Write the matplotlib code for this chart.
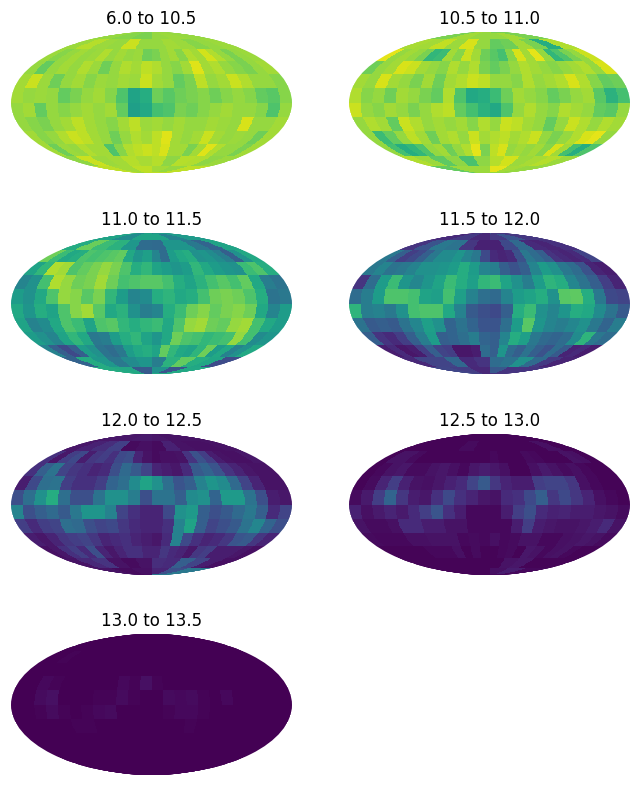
import numpy as np
import matplotlib
matplotlib.use('Agg')
import matplotlib.pyplot as plt

titles = ['6.0 to 10.5', '10.5 to 11.0', '11.0 to 11.5', '11.5 to 12.0',
          '12.0 to 12.5', '12.5 to 13.0', '13.0 to 13.5']

# fraction of pixels (percent), rows north to south, columns lon -180 to 180
bin_a = [
    [84, 84, 84, 84, 82, 82, 82, 82, 80, 80, 80, 80, 84, 84, 84, 84, 85, 85, 85, 85, 84, 84, 84, 84],
    [85, 85, 89, 89, 85, 85, 84, 84, 92, 92, 84, 84, 84, 84, 86, 86, 85, 85, 82, 82, 84, 84, 85, 85],
    [85, 82, 84, 86, 84, 85, 88, 84, 86, 84, 85, 78, 80, 84, 86, 82, 88, 86, 93, 88, 84, 80, 84, 85],
    [84, 76, 84, 86, 84, 88, 85, 78, 84, 88, 86, 90, 88, 84, 82, 86, 95, 86, 88, 84, 82, 80, 84, 86],
    [86, 92, 85, 78, 84, 86, 82, 85, 84, 86, 85, 92, 86, 84, 76, 80, 90, 84, 86, 92, 88, 84, 84, 82],
    [86, 84, 85, 84, 76, 80, 84, 86, 82, 72, 58, 62, 78, 74, 78, 80, 82, 78, 82, 84, 82, 76, 74, 82],
    [84, 86, 76, 84, 82, 84, 86, 84, 86, 76, 56, 60, 70, 72, 80, 78, 82, 84, 86, 84, 84, 82, 72, 84],
    [84, 82, 80, 84, 86, 90, 86, 84, 82, 86, 90, 85, 86, 84, 86, 84, 84, 86, 85, 84, 94, 84, 84, 86],
    [86, 82, 84, 88, 92, 90, 86, 84, 78, 84, 88, 86, 90, 95, 86, 84, 86, 92, 86, 84, 85, 84, 78, 86],
    [86, 78, 85, 84, 88, 86, 86, 72, 82, 88, 90, 92, 90, 94, 86, 86, 80, 86, 95, 88, 84, 84, 80, 86],
    [83, 83, 92, 92, 85, 85, 86, 86, 89, 89, 87, 87, 89, 89, 83, 83, 89, 89, 88, 88, 83, 83, 85, 85],
    [90, 90, 90, 90, 86, 86, 86, 86, 90, 90, 90, 90, 86, 86, 86, 86, 84, 84, 84, 84, 90, 90, 90, 90],
]
bin_b = [
    [80, 80, 80, 80, 86, 86, 86, 86, 84, 84, 84, 84, 84, 84, 84, 84, 86, 86, 86, 86, 80, 80, 80, 80],
    [87, 87, 86, 86, 91, 91, 85, 85, 94, 94, 84, 84, 76, 76, 78, 78, 86, 86, 80, 80, 62, 62, 88, 88],
    [96, 84, 86, 84, 80, 66, 68, 86, 82, 92, 86, 78, 74, 70, 82, 94, 86, 96, 84, 66, 72, 80, 84, 92],
    [78, 84, 86, 94, 92, 86, 84, 82, 88, 84, 88, 80, 76, 80, 84, 88, 86, 84, 82, 84, 86, 88, 84, 94],
    [86, 84, 94, 86, 84, 80, 86, 78, 86, 88, 92, 90, 84, 84, 82, 88, 84, 86, 88, 94, 88, 82, 76, 78],
    [88, 82, 84, 78, 86, 84, 80, 76, 88, 72, 60, 62, 68, 78, 86, 84, 82, 76, 80, 84, 86, 74, 64, 70],
    [92, 84, 82, 86, 84, 80, 84, 88, 90, 76, 70, 64, 60, 72, 84, 88, 84, 82, 88, 86, 84, 76, 74, 84],
    [84, 88, 86, 76, 92, 88, 84, 86, 84, 86, 82, 88, 84, 92, 90, 86, 84, 76, 84, 92, 88, 84, 88, 86],
    [84, 68, 76, 84, 90, 86, 78, 86, 88, 84, 92, 86, 88, 90, 86, 88, 92, 84, 80, 84, 88, 94, 96, 84],
    [84, 70, 62, 66, 72, 84, 86, 78, 84, 88, 96, 80, 90, 94, 84, 86, 84, 86, 82, 94, 86, 70, 62, 72],
    [88, 88, 85, 85, 75, 75, 83, 83, 71, 71, 83, 83, 89, 89, 93, 93, 85, 85, 87, 87, 89, 89, 85, 85],
    [76, 76, 76, 76, 85, 85, 85, 85, 85, 85, 85, 85, 96, 96, 96, 96, 86, 86, 86, 86, 84, 84, 84, 84],
]
bin_c = [
    [58, 58, 58, 58, 48, 48, 48, 48, 58, 58, 58, 58, 58, 58, 58, 58, 44, 44, 44, 44, 54, 54, 54, 54],
    [61, 61, 77, 77, 68, 68, 64, 64, 53, 53, 35, 35, 34, 34, 52, 52, 52, 52, 40, 40, 32, 32, 58, 58],
    [78, 68, 60, 62, 72, 70, 72, 74, 76, 60, 52, 56, 45, 35, 55, 60, 62, 50, 52, 48, 42, 30, 50, 60],
    [58, 66, 88, 86, 72, 76, 80, 84, 80, 72, 62, 66, 58, 55, 52, 55, 66, 60, 55, 52, 50, 68, 72, 62],
    [45, 50, 70, 88, 84, 78, 80, 86, 78, 70, 72, 74, 74, 70, 62, 58, 64, 70, 74, 70, 76, 60, 42, 38],
    [55, 50, 60, 72, 84, 82, 74, 80, 66, 55, 45, 48, 62, 65, 60, 62, 70, 78, 80, 78, 72, 62, 38, 40],
    [60, 52, 62, 58, 72, 82, 86, 74, 60, 64, 50, 42, 45, 62, 68, 78, 82, 76, 80, 82, 78, 60, 45, 55],
    [58, 44, 48, 60, 72, 68, 58, 72, 74, 66, 62, 66, 68, 60, 72, 84, 86, 78, 76, 84, 86, 70, 60, 55],
    [55, 50, 45, 58, 66, 60, 40, 42, 55, 62, 66, 58, 52, 60, 78, 72, 70, 66, 68, 70, 84, 70, 48, 52],
    [44, 30, 22, 30, 55, 50, 38, 35, 40, 55, 60, 62, 58, 76, 66, 60, 58, 65, 78, 55, 60, 44, 50, 60],
    [31, 31, 61, 61, 53, 53, 40, 40, 48, 48, 52, 52, 42, 42, 64, 64, 76, 76, 62, 62, 59, 59, 23, 23],
    [61, 61, 61, 61, 60, 60, 60, 60, 28, 28, 28, 28, 50, 50, 50, 50, 26, 26, 26, 26, 60, 60, 60, 60],
]
bin_d = [
    [12, 12, 12, 12, 17, 17, 17, 17, 11, 11, 11, 11, 17, 17, 17, 17, 26, 26, 26, 26, 16, 16, 16, 16],
    [15, 15, 26, 26, 40, 40, 38, 38, 16, 16, 9, 9, 9, 9, 22, 22, 34, 34, 12, 12, 10, 10, 14, 14],
    [40, 30, 18, 22, 30, 40, 48, 48, 52, 45, 40, 22, 12, 10, 12, 25, 40, 35, 30, 15, 12, 10, 12, 20],
    [40, 45, 38, 40, 44, 50, 50, 52, 55, 62, 55, 45, 42, 30, 25, 30, 45, 55, 50, 40, 35, 25, 10, 8],
    [15, 35, 55, 68, 52, 46, 52, 58, 68, 62, 56, 66, 68, 58, 50, 42, 55, 65, 62, 46, 38, 30, 18, 10],
    [35, 42, 55, 72, 72, 70, 58, 56, 70, 56, 44, 36, 34, 45, 55, 58, 62, 50, 74, 75, 62, 40, 22, 20],
    [65, 42, 44, 40, 50, 70, 72, 72, 60, 44, 28, 24, 22, 30, 62, 68, 50, 45, 52, 62, 60, 48, 38, 28],
    [38, 28, 30, 28, 38, 46, 56, 50, 32, 38, 32, 26, 26, 36, 55, 74, 52, 45, 42, 46, 50, 40, 32, 42],
    [30, 15, 12, 18, 30, 42, 55, 30, 32, 36, 42, 32, 30, 45, 62, 56, 40, 34, 32, 35, 48, 65, 40, 35],
    [8, 12, 6, 8, 18, 30, 20, 18, 6, 6, 8, 35, 30, 52, 35, 30, 38, 30, 25, 35, 28, 10, 12, 8],
    [11, 11, 20, 20, 20, 20, 33, 33, 12, 12, 15, 15, 35, 35, 38, 38, 50, 50, 34, 34, 17, 17, 10, 10],
    [21, 21, 21, 21, 18, 18, 18, 18, 11, 11, 11, 11, 27, 27, 27, 27, 15, 15, 15, 15, 15, 15, 15, 15],
]
bin_e = [
    [6, 6, 6, 6, 6, 6, 6, 6, 7, 7, 7, 7, 6, 6, 6, 6, 5, 5, 5, 5, 5, 5, 5, 5],
    [6, 6, 9, 9, 13, 13, 19, 19, 3, 3, 4, 4, 3, 3, 9, 9, 5, 5, 4, 4, 4, 4, 5, 5],
    [14, 6, 18, 22, 8, 16, 18, 14, 22, 24, 10, 5, 3, 4, 4, 5, 15, 25, 18, 8, 5, 4, 4, 6],
    [14, 30, 38, 20, 16, 14, 10, 12, 24, 34, 28, 20, 10, 8, 6, 12, 28, 32, 26, 15, 10, 6, 5, 5],
    [8, 22, 36, 38, 18, 14, 14, 18, 32, 36, 48, 58, 50, 36, 26, 30, 44, 52, 48, 34, 20, 10, 5, 5],
    [24, 36, 50, 62, 36, 24, 24, 38, 50, 50, 42, 24, 38, 38, 30, 48, 50, 32, 54, 54, 38, 24, 8, 6],
    [45, 24, 30, 34, 28, 40, 52, 52, 44, 20, 14, 10, 10, 22, 50, 54, 30, 24, 28, 34, 40, 30, 12, 20],
    [18, 12, 18, 20, 36, 34, 24, 20, 22, 16, 12, 10, 10, 14, 44, 58, 30, 20, 24, 28, 38, 46, 32, 24],
    [8, 6, 10, 16, 18, 20, 16, 10, 12, 14, 10, 8, 6, 12, 44, 22, 14, 10, 12, 16, 26, 28, 16, 10],
    [4, 6, 14, 18, 12, 24, 10, 6, 10, 14, 14, 10, 10, 16, 12, 10, 6, 16, 18, 8, 8, 8, 6, 4],
    [5, 5, 11, 11, 15, 15, 5, 5, 3, 3, 5, 5, 13, 13, 12, 12, 30, 30, 20, 20, 8, 8, 4, 4],
    [5, 5, 5, 5, 3, 3, 3, 3, 4, 4, 4, 4, 10, 10, 10, 10, 24, 24, 24, 24, 40, 40, 40, 40],
]
bin_f = [
    [1, 1, 1, 1, 1, 1, 1, 1, 1, 1, 1, 1, 1, 1, 1, 1, 1, 1, 1, 1, 1, 1, 1, 1],
    [1, 1, 1, 1, 1, 1, 1, 1, 3, 3, 1, 1, 1, 1, 1, 1, 1, 1, 1, 1, 4, 4, 1, 1],
    [1, 5, 5, 3, 1, 1, 1, 1, 1, 1, 1, 1, 2, 1, 1, 1, 3, 2, 1, 1, 1, 5, 4, 1],
    [1, 2, 5, 6, 3, 3, 5, 6, 4, 2, 6, 8, 6, 4, 1, 1, 4, 7, 5, 3, 4, 2, 1, 1],
    [1, 3, 10, 18, 9, 5, 4, 6, 9, 12, 20, 28, 16, 10, 8, 8, 18, 20, 20, 16, 4, 2, 1, 1],
    [3, 7, 18, 32, 16, 8, 6, 14, 22, 14, 10, 6, 5, 12, 14, 22, 30, 16, 22, 16, 10, 4, 2, 1],
    [9, 4, 7, 10, 7, 12, 18, 26, 14, 8, 2, 2, 2, 8, 18, 24, 12, 9, 10, 8, 8, 6, 5, 3],
    [5, 3, 3, 4, 12, 12, 8, 8, 5, 5, 2, 2, 2, 2, 8, 18, 8, 6, 5, 5, 6, 8, 12, 5],
    [3, 2, 2, 2, 4, 4, 5, 5, 5, 2, 3, 2, 4, 2, 3, 5, 5, 2, 2, 4, 5, 6, 5, 3],
    [1, 1, 1, 1, 1, 2, 2, 2, 4, 1, 3, 1, 1, 2, 3, 1, 6, 5, 2, 4, 5, 2, 1, 1],
    [1, 1, 1, 1, 1, 1, 1, 1, 1, 1, 1, 1, 1, 1, 5, 5, 6, 6, 1, 1, 1, 1, 1, 1],
    [1, 1, 1, 1, 1, 1, 1, 1, 1, 1, 1, 1, 4, 4, 4, 4, 8, 8, 8, 8, 2, 2, 2, 2],
]
bin_g = [
    [0, 0, 0, 0, 0, 0, 0, 0, 0, 0, 0, 0, 0, 0, 0, 0, 0, 0, 0, 0, 0, 0, 0, 0],
    [0, 0, 0, 0, 0, 0, 0, 0, 0, 0, 0, 0, 0, 0, 0, 0, 0, 0, 0, 0, 0, 0, 0, 0],
    [0, 0, 1, 0, 0, 0, 0, 0, 0, 0, 0, 0, 0, 0, 0, 0, 0, 0, 0, 0, 0, 0, 0, 0],
    [0, 0, 0, 0, 0, 0, 0, 0, 0, 0, 0, 0, 0, 0, 0, 0, 0, 0, 0, 0, 0, 0, 0, 0],
    [0, 0, 2, 1, 0, 0, 0, 0, 0, 2, 1, 4, 1, 0, 0, 0, 0, 0, 0, 0, 0, 0, 0, 0],
    [0, 0, 3, 4, 0, 0, 0, 1, 1, 3, 1, 0, 0, 3, 2, 3, 1, 0, 2, 0, 0, 0, 0, 0],
    [0, 0, 1, 3, 1, 0, 1, 2, 3, 0, 0, 0, 0, 1, 2, 2, 1, 0, 0, 0, 0, 0, 0, 0],
    [0, 0, 0, 0, 0, 1, 1, 0, 0, 0, 0, 0, 0, 0, 0, 1, 0, 0, 0, 0, 0, 0, 0, 0],
    [0, 0, 0, 0, 0, 0, 0, 0, 0, 0, 0, 0, 0, 0, 0, 0, 0, 0, 0, 0, 0, 0, 0, 0],
    [0, 0, 0, 0, 0, 0, 0, 0, 0, 0, 0, 0, 0, 0, 0, 0, 0, 0, 0, 0, 0, 0, 0, 0],
    [0, 0, 0, 0, 0, 0, 0, 0, 0, 0, 0, 0, 0, 0, 0, 0, 0, 0, 0, 0, 0, 0, 0, 0],
    [0, 0, 0, 0, 0, 0, 0, 0, 0, 0, 0, 0, 0, 0, 0, 0, 0, 0, 0, 0, 0, 0, 0, 0],
]
bins = [bin_a, bin_b, bin_c, bin_d, bin_e, bin_f, bin_g]

# each cell is split so the mesh follows the curve of the projection
split = 4
lon = np.radians(np.linspace(-180, 180, 24 * split + 1))
lat = np.radians(np.linspace(90, -90, 12 * split + 1))

W, H = 639, 786
lefts = [11, 349]
tops = [32, 233, 434, 634]

fig = plt.figure(figsize=(W / 100, H / 100))
for i, (title, values) in enumerate(zip(titles, bins)):
    left = lefts[i % 2]
    top = tops[i // 2]
    ax = fig.add_axes([left / W, 1 - (top + 141) / H, 281 / W, 141 / H], projection='mollweide')
    grid = np.repeat(np.repeat(np.array(values) / 100, split, axis=0), split, axis=1)
    ax.pcolormesh(lon, lat, grid, cmap='viridis', vmin=0, vmax=1,
                  shading='flat', antialiased=False)
    ax.set_title(title)
    ax.axis('off')

plt.savefig('out.png', dpi=100)
